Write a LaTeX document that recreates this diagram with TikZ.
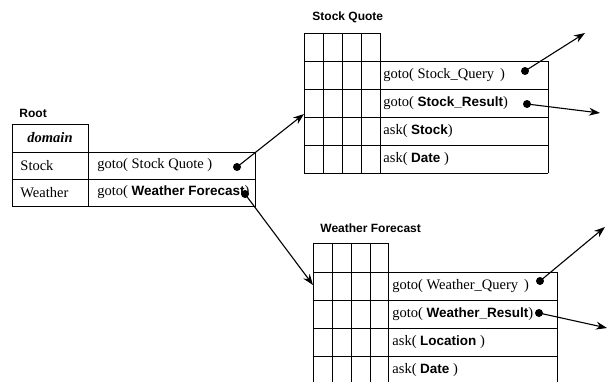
\documentclass[tikz,border=0pt]{standalone}
\usepackage{fontspec}
\setmainfont{Liberation Serif}
\setsansfont{Liberation Sans}
\usetikzlibrary{arrows.meta}
\newcommand{\kw}[1]{{\sffamily\bfseries\fontsize{13.5}{15}\selectfont #1}}
\tikzset{
  txt/.style={anchor=west, inner sep=0pt, font=\fontsize{14.5}{16}\selectfont},
  title/.style={anchor=west, inner sep=0pt, font=\sffamily\bfseries\fontsize{12}{14}\selectfont},
  dot/.style={circle, fill, inner sep=0pt, minimum size=8pt},
  link/.style={-{Stealth[length=11pt,width=8pt]}, line width=1.1pt, shorten <=-2pt},
}
\begin{document}
\begin{tikzpicture}[x=1pt,y=-1pt,line width=0.9pt]
  \clip (0,0) rectangle (608,381);
  % Root
  \node[title] (rootT) at (19,113) {Root};
  \draw (12,124) rectangle node[font=\fontsize{14.5}{16}\selectfont] (dom) {\textbf{\textit{domain}}} (88,152);
  \draw (12,152) rectangle (88,179) (88,152) rectangle (255,179);
  \draw (12,179) rectangle (88,206) (88,179) rectangle (255,206);
  \node[txt] (rStock) at (20,165.5) {Stock};
  \node[txt] (rWeather) at (20,192.5) {Weather};
  \node[txt] (rGoS) at (97,165.5) {goto( Stock Quote )};
  \node[txt] (rGoW) at (97,192.5) {goto( \kw{Weather Forecast})};
  \node[dot] (dS) at (237,167) {};
  \node[dot] (dW) at (245,194) {};
  % Stock Quote
  \node[title] (sqT) at (312,17) {Stock Quote};
  \foreach \x in {304,323,342,361,380} \draw (\x,33) -- (\x,173);
  \draw (304,33) -- (380,33);
  \foreach \y in {61,89,117,145,173} \draw (304,\y) -- (548,\y);
  \draw (548,61) -- (548,173);
  \node[txt] (sq1) at (383,75) {goto( Stock\_Query\, )};
  \node[txt] (sq2) at (383,103) {goto( \kw{Stock\_Result})};
  \node[txt] (sq3) at (383,131) {ask( \kw{Stock})};
  \node[txt] (sq4) at (383,159) {ask( \kw{Date} )};
  \node[dot] (dSQ) at (525,71) {};
  \node[dot] (dSR) at (527,104) {};
  \coordinate (sqIn) at (304,114);
  \coordinate (sqOut1) at (585,33);
  \coordinate (sqOut2) at (600,113);
  % Weather Forecast
  \node[title] (wfT) at (320,228) {Weather Forecast};
  \foreach \x in {313,332,351,370,388} \draw (\x,243) -- (\x,390);
  \draw (313,243) -- (388,243);
  \foreach \y in {272,300,328,356} \draw (313,\y) -- (557,\y);
  \draw (557,272) -- (557,390);
  \node[txt] (wf1) at (392,286) {goto( Weather\_Query\, )};
  \node[txt] (wf2) at (392,314) {goto( \kw{Weather\_Result})};
  \node[txt] (wf3) at (392,342) {ask( \kw{Location} )};
  \node[txt] (wf4) at (392,370) {ask( \kw{Date} )};
  \node[dot] (dWQ) at (540,281) {};
  \node[dot] (dWR) at (539,313) {};
  \coordinate (wfIn) at (313,285);
  \coordinate (wfOut1) at (605,227);
  \coordinate (wfOut2) at (607,328);
  % links
  \draw[link] (dS.center) -- (sqIn);
  \draw[link] (dW.center) -- (wfIn);
  \draw[link] (dSQ.center) -- (sqOut1);
  \draw[link] (dSR.center) -- (sqOut2);
  \draw[link] (dWQ.center) -- (wfOut1);
  \draw[link] (dWR.center) -- (wfOut2);
\end{tikzpicture}
\end{document}
